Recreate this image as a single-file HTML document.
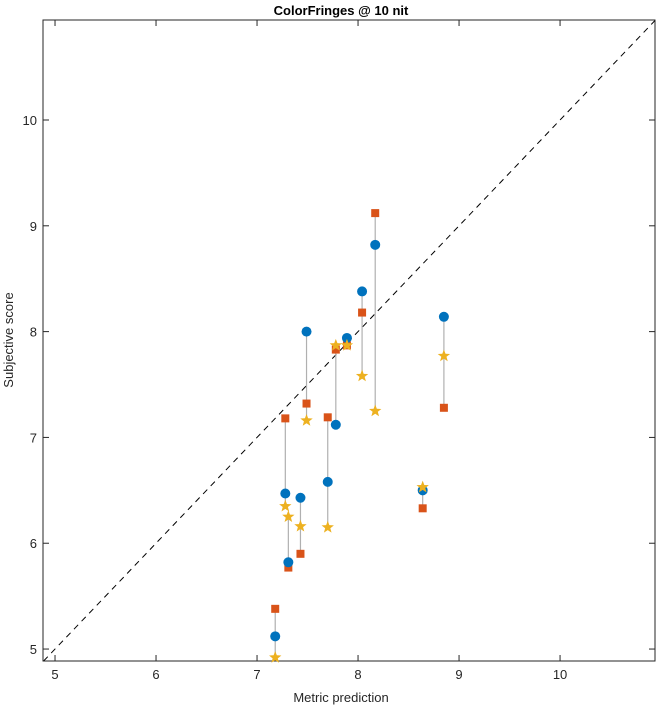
<!DOCTYPE html>
<html><head><meta charset="utf-8"><style>
html,body{margin:0;padding:0;background:#fff;}
svg{display:block;font-family:"Liberation Sans",sans-serif;}
</style></head><body>
<svg id="chart" width="656" height="708">
<rect x="0" y="0" width="656" height="708" fill="#fff"/>
<text x="341" y="15" text-anchor="middle" font-size="13" font-weight="bold" fill="#000">ColorFringes @ 10 nit</text>
<text x="341" y="702" text-anchor="middle" font-size="13" fill="#262626">Metric prediction</text>
<text transform="translate(13,340) rotate(-90)" text-anchor="middle" font-size="13" fill="#262626">Subjective score</text>
<g id="axes"></g>
<g id="marks"></g>
</svg>
<script>
const xValues = [7.18, 7.28, 7.31, 7.43, 7.49, 7.70, 7.78, 7.89, 8.04, 8.17, 8.64, 8.85];
const circleScores = [5.12, 6.47, 5.82, 6.43, 8.00, 6.58, 7.12, 7.94, 8.38, 8.82, 6.50, 8.14];
const squareScores = [5.38, 7.18, 5.77, 5.90, 7.32, 7.19, 7.83, 7.87, 8.18, 9.12, 6.33, 7.28];
const starScores = [4.92, 6.35, 6.25, 6.16, 7.16, 6.15, 7.87, 7.87, 7.58, 7.25, 6.53, 7.77];
const xTicks = [5, 6, 7, 8, 9, 10];
const yTicks = [5, 6, 7, 8, 9, 10];

const L=43, R=655, T=20, B=661;
const x0=4.881, x1=10.94, y0=4.887, y1=10.945;
const sx=v=>L+(v-x0)/(x1-x0)*(R-L);
const sy=v=>B-(v-y0)/(y1-y0)*(B-T);
const NS="http://www.w3.org/2000/svg";
function mk(tag, attrs, parent){const e=document.createElementNS(NS,tag);for(const k in attrs)e.setAttribute(k,attrs[k]);parent.appendChild(e);return e;}
const axes=document.getElementById('axes'), marks=document.getElementById('marks');

let d=mk('line',{x1:sx(Math.max(x0,y0)),y1:sy(Math.max(x0,y0)),x2:sx(Math.min(x1,y1)),y2:sy(Math.min(x1,y1)),stroke:'#000','stroke-width':1,'stroke-dasharray':'6,5'},axes);



xTicks.forEach(t=>{
  const x=sx(t);
  let a=mk('line',{x1:x,y1:B,x2:x,y2:B-6,stroke:'#262626'},axes);
  
  
  let b=mk('line',{x1:x,y1:T,x2:x,y2:T+6,stroke:'#262626'},axes);
  
  
  let tx=mk('text',{x:x,y:B+18,'text-anchor':'middle','font-size':13,fill:'#262626'},axes);
  tx.textContent=t;
  
  
});
yTicks.forEach(t=>{
  const y=sy(t);
  let a=mk('line',{x1:L,y1:y,x2:L+6,y2:y,stroke:'#262626'},axes);
  
  
  let b=mk('line',{x1:R,y1:y,x2:R-6,y2:y,stroke:'#262626'},axes);
  
  
  let tx=mk('text',{x:L-6,y:y+5,'text-anchor':'end','font-size':13,fill:'#262626'},axes);
  tx.textContent=t;
  
  
});
let box=mk('rect',{x:L,y:T,width:R-L,height:B-T,fill:'none',stroke:'#262626','stroke-width':1},axes);



function starPath(cx,cy,r){let p='';for(let i=0;i<10;i++){const rr=i%2?r*0.42:r;const a=-Math.PI/2+i*Math.PI/5;p+=(i?'L':'M')+(cx+rr*Math.cos(a)).toFixed(2)+','+(cy+rr*Math.sin(a)).toFixed(2);}return p+'Z';}

xValues.forEach((xv,i)=>{
  const vals=[circleScores[i],squareScores[i],starScores[i]];
  const x=sx(xv);
  let ln=mk('line',{x1:x,y1:sy(Math.min(...vals)),x2:x,y2:sy(Math.max(...vals)),stroke:'#b0b0b0','stroke-width':1.2},marks);
  
  
});
xValues.forEach((xv,i)=>{
  const x=sx(xv);
  let s=mk('rect',{x:x-4,y:sy(squareScores[i])-4,width:8,height:8,fill:'#D95319'},marks);
  
  
  let c=mk('circle',{cx:x,cy:sy(circleScores[i]),r:5,fill:'#0072BD'},marks);
  
  
  let st=mk('path',{d:starPath(x,sy(starScores[i]),6.5),fill:'#EDB120'},marks);
  
  
});
</script>
</body></html>
